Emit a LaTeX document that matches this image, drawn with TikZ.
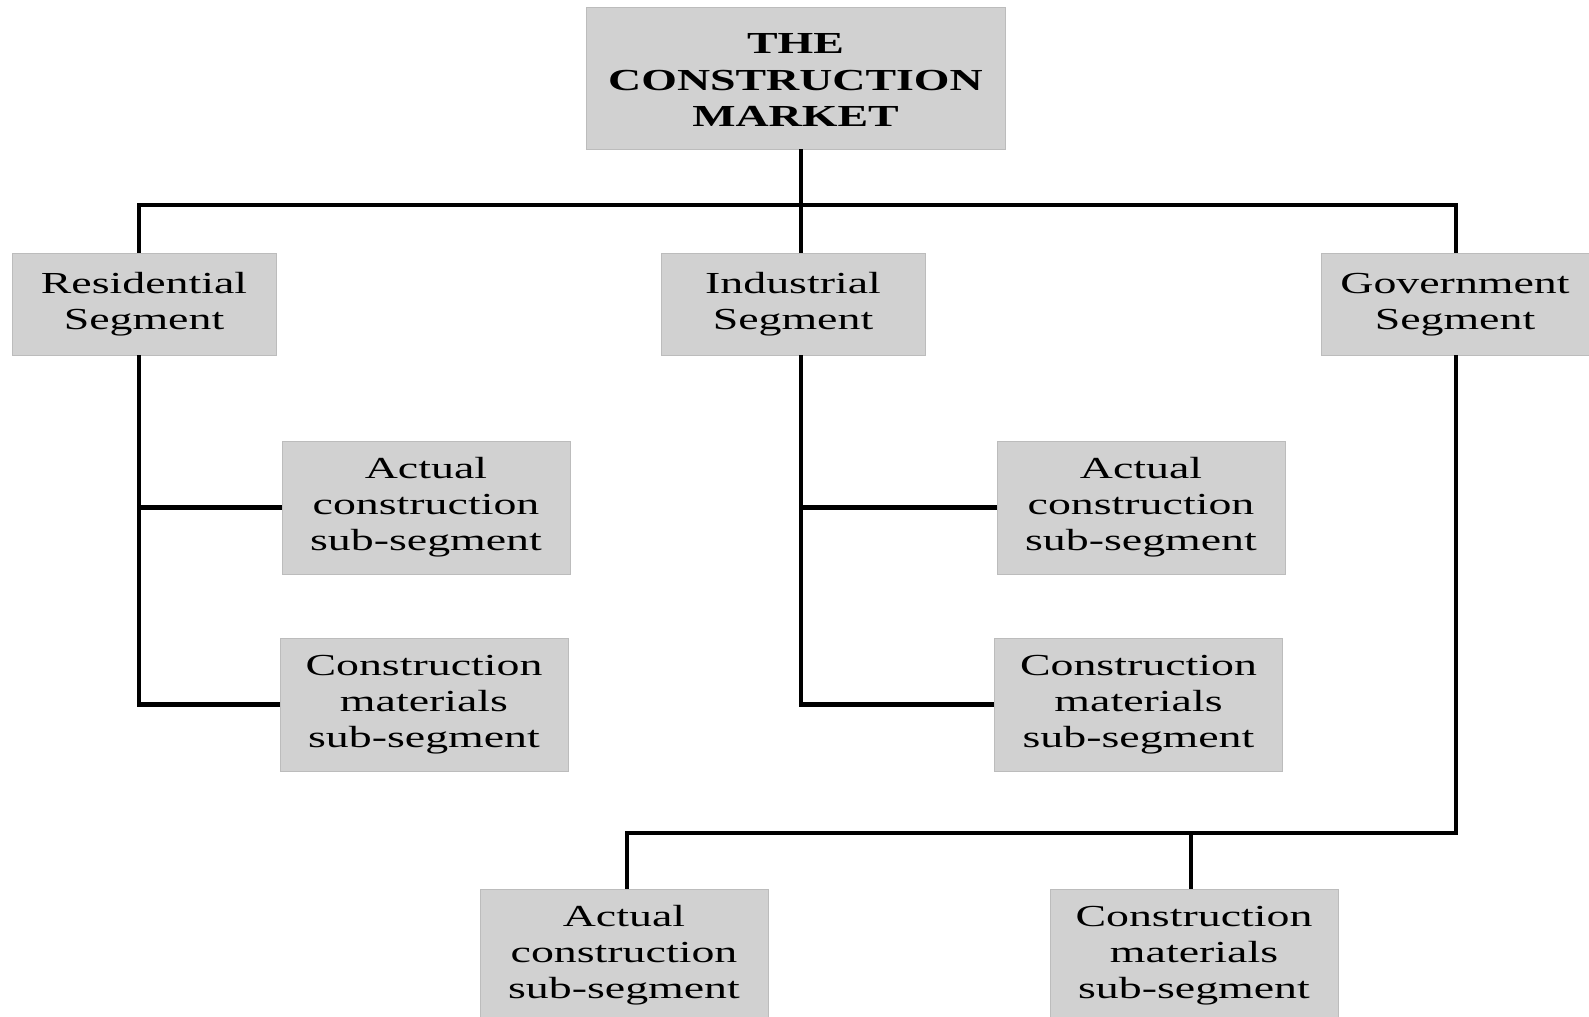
\documentclass[tikz,border=0pt]{standalone}
\usepackage{fontspec}
\setmainfont{Liberation Serif}
\usepackage{graphicx}
\usepackage{tikz}
\usetikzlibrary{positioning,calc}
\definecolor{boxgray}{RGB}{209,209,209}
\definecolor{boxedge}{RGB}{188,188,188}
\newcommand{\widetext}[1]{\scalebox{1.5}[1]{\begin{tabular}{@{}c@{}}#1\end{tabular}}}

\begin{document}
\begin{tikzpicture}[
    x=0.02cm, y=-0.02cm,
    box/.style={rectangle, draw=boxedge, fill=boxgray, line width=0.5pt, inner sep=0pt,
        font=\fontsize{17.4}{20.4}\selectfont},
    seg/.style={box, minimum width=5.28cm, minimum height=2.04cm},
    sub/.style={box, minimum width=5.76cm, minimum height=2.66cm},
    top/.style={box, minimum width=8.38cm, minimum height=2.84cm,
        font=\fontsize{17.4}{20.8}\selectfont\bfseries},
    link/.style={line width=2.6pt}
]
    \useasboundingbox (0,0) rectangle (1589,1017);

    \node[top] (market) at (795.5,78) {\raisebox{-0.1cm}[\height][\depth]{\widetext{THE\\CONSTRUCTION\\MARKET}}};

    \node[seg] (res) at (144,304) {\widetext{Residential\\Segment}};
    \node[seg] (ind) at (793,304) {\widetext{Industrial\\Segment}};
    \node[seg, minimum width=5.36cm] (gov) at (1455,304) {\widetext{Government\\Segment}};

    \node[sub] (resact) at (426,507.5) {\widetext{Actual\\construction\\sub-segment}};
    \node[sub] (resmat) at (424,704.5) {\widetext{Construction\\materials\\sub-segment}};
    \node[sub] (indact) at (1141,507.5) {\widetext{Actual\\construction\\sub-segment}};
    \node[sub] (indmat) at (1138.5,704.5) {\widetext{Construction\\materials\\sub-segment}};
    \node[sub] (govact) at (624,955.5) {\widetext{Actual\\construction\\sub-segment}};
    \node[sub] (govmat) at (1194,955.5) {\widetext{Construction\\materials\\sub-segment}};

    % trunk positions
    \coordinate (bus) at (801,205);
    \coordinate (resx) at (139,205);
    \coordinate (govx) at (1456,205);
    \coordinate (govbus) at (1456,833);
    \coordinate (actx) at (627,833);
    \coordinate (matx) at (1191,833);

    % top level
    \draw[link] (market.south -| bus) -- (bus);
    \draw[link] (res.north -| resx) |- (bus) -| (gov.north -| govx);
    \draw[link] (ind.north -| bus) -- (bus);

    % residential
    \draw[link] (res.south -| resx) |- (resmat.west);
    \draw[link] (resx |- resact.west) -- (resact.west);

    % industrial
    \draw[link] (ind.south -| bus) |- (indmat.west);
    \draw[link] (bus |- indact.west) -- (indact.west);

    % government
    \draw[link] (gov.south -| govx) -- (govbus) -| (govact.north -| actx);
    \draw[link] (govmat.north -| matx) -- (matx);
\end{tikzpicture}
\end{document}
